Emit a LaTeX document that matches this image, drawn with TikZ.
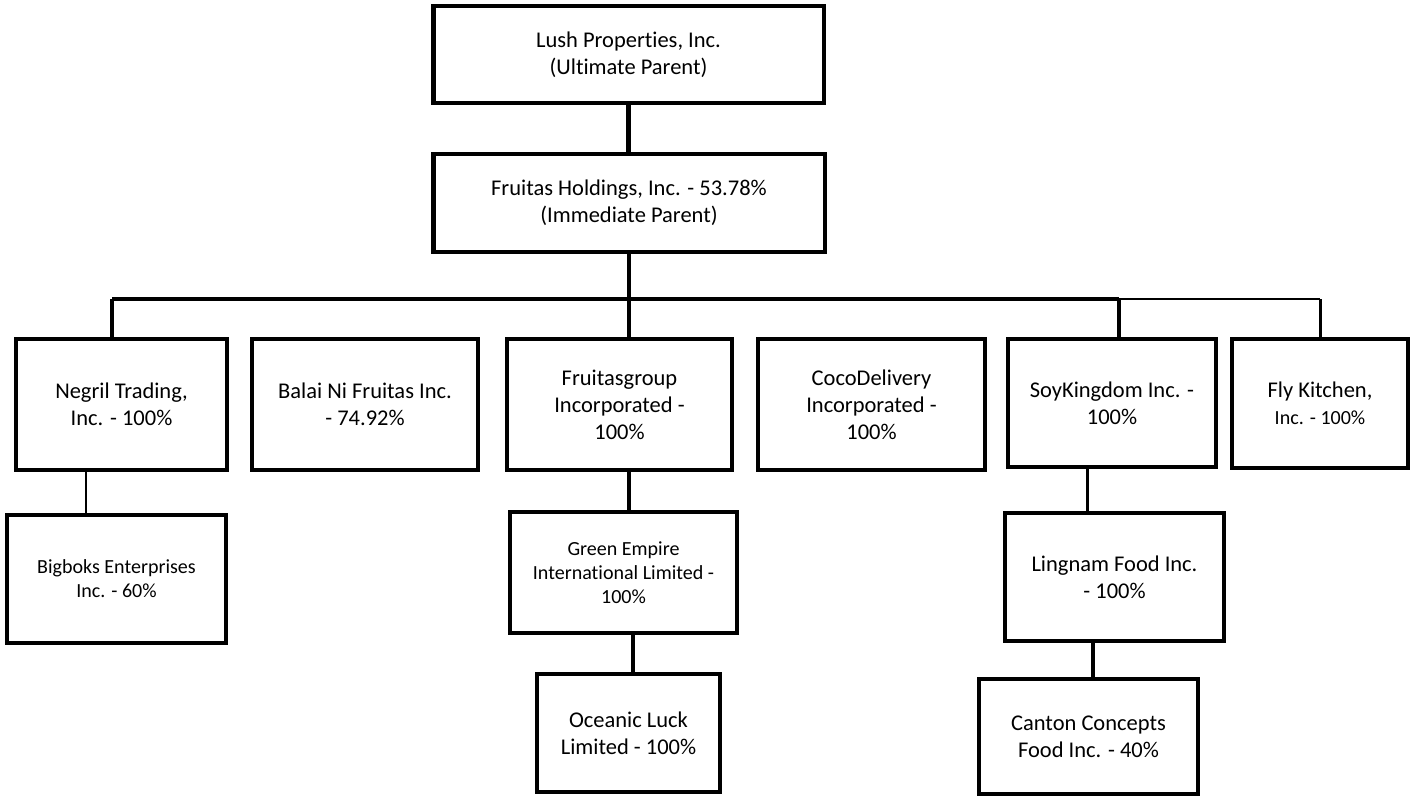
\documentclass[tikz,border=0pt]{standalone}
\usepackage{fontspec}
\setmainfont{Carlito}[Ligatures=NoCommon]
\begin{document}
\begin{tikzpicture}[x=0.02cm, y=-0.02cm,
    caixa/.style={draw, line width=2.8pt, align=center, inner sep=0pt,
      font=\fontsize{12.8}{15.3}\selectfont},
    miuda/.style={font=\fontsize{11.4}{13.8}\selectfont},
    liga/.style={line width=2.6pt},
    ligafina/.style={line width=1.7pt}]
    \useasboundingbox (0,0) rectangle (1416,797); % margens
    % caixas
    \node[caixa, minimum width=7.82cm, minimum height=1.94cm] (lush) at (628.5,54.5) {Lush Properties, Inc.\\(Ultimate Parent)};
    \node[caixa, minimum width=7.84cm, minimum height=1.96cm] (hold) at (629,203) {Fruitas Holdings, Inc. - 53.78\%\\(Immediate Parent)};
    \node[caixa, minimum width=4.22cm, minimum height=2.62cm] (negril) at (121.5,404.5) {Negril Trading,\\Inc. - 100\%};
    \node[caixa, minimum width=4.52cm, minimum height=2.62cm] (balai) at (365,404.5) {Balai Ni Fruitas Inc.\\- 74.92\%};
    \node[caixa, minimum width=4.50cm, minimum height=2.62cm] (fgroup) at (619.5,404.5) {Fruitasgroup\\Incorporated -\\100\%};
    \node[caixa, minimum width=4.54cm, minimum height=2.62cm] (coco) at (871.5,404.5) {CocoDelivery\\Incorporated -\\100\%};
    \node[caixa, minimum width=4.16cm, minimum height=2.56cm] (soy) at (1112,403) {SoyKingdom Inc. -\\100\%};
    \node[caixa, minimum width=3.52cm, minimum height=2.58cm] (fly) at (1320,403.5) {Fly Kitchen,\\{\fontsize{11.4}{14}\selectfont Inc. - 100\%}};
    \node[caixa, miuda, minimum width=4.38cm, minimum height=2.56cm] (bigboks) at (116.5,579) {Bigboks Enterprises\\Inc. - 60\%};
    \node[caixa, miuda, minimum width=4.54cm, minimum height=2.42cm] (green) at (623.5,572.5) {Green Empire\\International Limited -\\100\%};
    \node[caixa, minimum width=4.38cm, minimum height=2.56cm] (lingnam) at (1114.5,577) {Lingnam Food Inc.\\- 100\%};
    \node[caixa, minimum width=3.66cm, minimum height=2.36cm] (oceanic) at (628.5,733) {Oceanic Luck\\Limited - 100\%};
    \node[caixa, minimum width=4.38cm, minimum height=2.30cm] (canton) at (1088.5,736.5) {Canton Concepts\\Food Inc. - 40\%};
    % pontos das ligacoes
    \coordinate (b1) at (112,299);
    \coordinate (b5) at (1119,299);
    \coordinate (b6) at (1320,299);
    \coordinate (n1) at (86,0);
    \coordinate (g1) at (633,0);
    \coordinate (s1) at (1087,0);
    \coordinate (l1) at (1093,0);
    % ligacoes
    \draw[liga] (lush.south) -- (lush.south |- hold.north); % topo
    \draw[liga] (hold.south) -- (hold.south |- b1); % tronco
    \draw[liga] (b1) -- (b5); % barramento
    \draw[ligafina] (b5) -- (b6); % barramento (fim)
    \draw[liga] (b1) -- (b1 |- negril.north);
    \draw[liga] (hold.south |- b1) -- (hold.south |- fgroup.north);
    \draw[liga] (b5) -- (b5 |- soy.north);
    \draw[ligafina] (b6) -- (b6 |- fly.north);
    \draw[ligafina] (n1 |- negril.south) -- (n1 |- bigboks.north);
    \draw[liga] (hold.south |- fgroup.south) -- (hold.south |- green.north);
    \draw[liga] (g1 |- green.south) -- (g1 |- oceanic.north);
    \draw[ligafina] (s1 |- soy.south) -- (s1 |- lingnam.north);
    \draw[liga] (l1 |- lingnam.south) -- (l1 |- canton.north);
\end{tikzpicture}
\end{document}
